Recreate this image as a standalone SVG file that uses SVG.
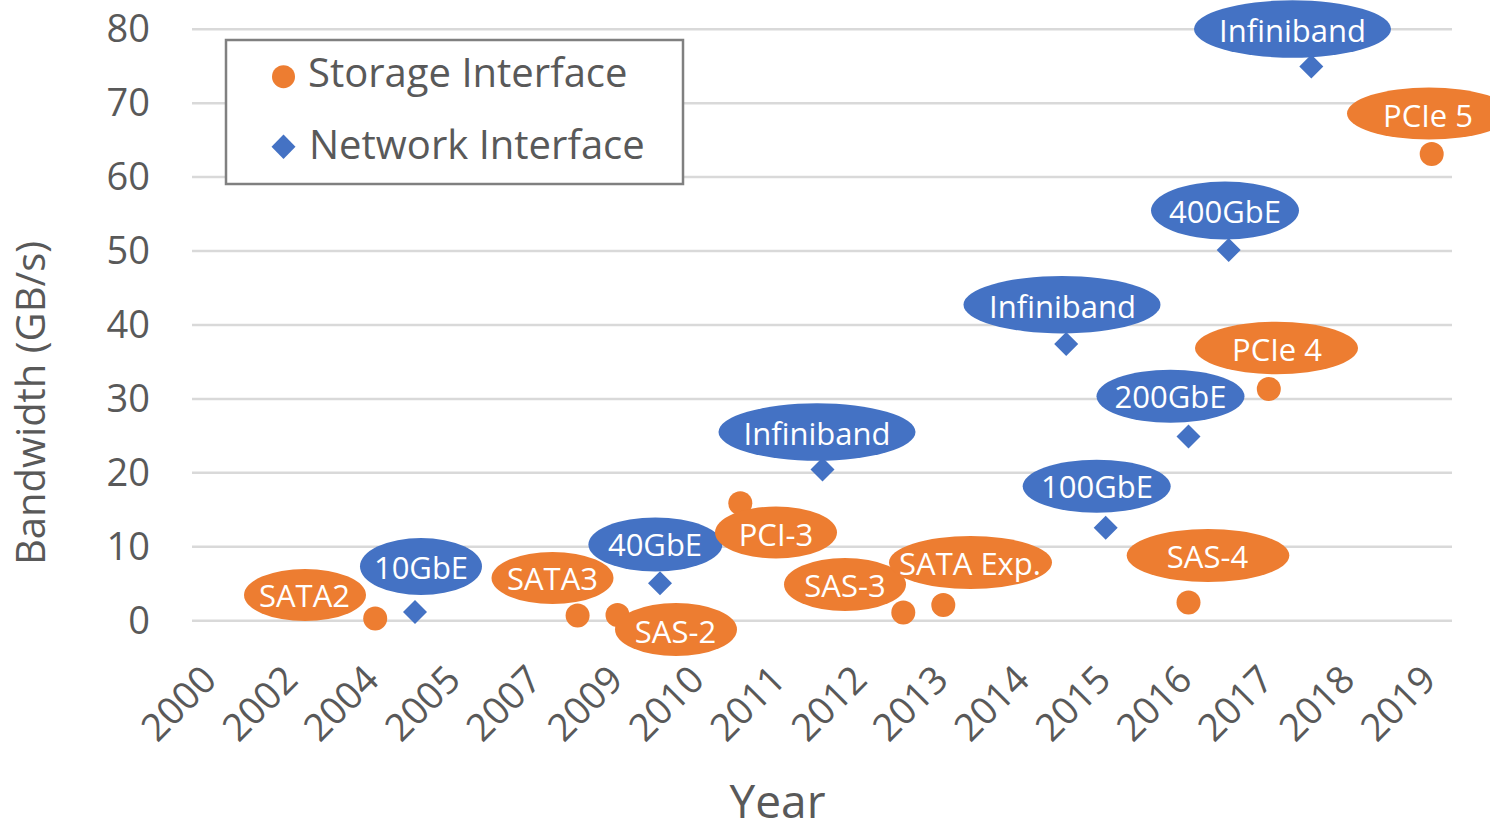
<svg xmlns="http://www.w3.org/2000/svg" width="1490" height="827" viewBox="0 0 1490 827">
  <style>
    .bg { fill: #ffffff; }
    .grid { stroke: #d9d9d9; stroke-width: 2.5; }
    .tick { font-family: "Open Sans", "Liberation Sans", sans-serif; font-size: 38px; fill: #595959; }
    .ytick { text-anchor: end; }
    .xtick { text-anchor: end; }
    .title { font-family: "Open Sans", "Liberation Sans", sans-serif; fill: #595959; text-anchor: middle; }
    .legend-box { fill: #ffffff; stroke: #808080; stroke-width: 2.5; }
    .legend-text { font-family: "Open Sans", "Liberation Sans", sans-serif; font-size: 40px; fill: #595959; }
    .storage { fill: #ed7d31; }
    .network { fill: #4472c4; }
    .callout-text { font-family: "Open Sans", "Liberation Sans", sans-serif; font-size: 31px; fill: #ffffff; text-anchor: middle; }
  </style>
  <defs>
    <circle id="dot" r="12"/>
    <path id="diamond" d="M0,-12 L12,0 L0,12 L-12,0 Z"/>
  </defs>

  <rect class="bg" x="0" y="0" width="1490" height="827"/>

  <!-- horizontal gridlines, 0 to 80 GB/s -->
  <g id="gridlines">
    <line class="grid" x1="192" y1="620.7" x2="1452" y2="620.7"/>
    <line class="grid" x1="192" y1="546.8" x2="1452" y2="546.8"/>
    <line class="grid" x1="192" y1="472.8" x2="1452" y2="472.8"/>
    <line class="grid" x1="192" y1="398.9" x2="1452" y2="398.9"/>
    <line class="grid" x1="192" y1="325" x2="1452" y2="325"/>
    <line class="grid" x1="192" y1="251" x2="1452" y2="251"/>
    <line class="grid" x1="192" y1="177.1" x2="1452" y2="177.1"/>
    <line class="grid" x1="192" y1="103.2" x2="1452" y2="103.2"/>
    <line class="grid" x1="192" y1="29.3" x2="1452" y2="29.3"/>
  </g>

  <!-- value axis -->
  <g id="y-axis">
    <text class="tick ytick" x="150" y="633.5">0</text>
    <text class="tick ytick" x="150" y="559.6">10</text>
    <text class="tick ytick" x="150" y="485.6">20</text>
    <text class="tick ytick" x="150" y="411.7">30</text>
    <text class="tick ytick" x="150" y="337.8">40</text>
    <text class="tick ytick" x="150" y="263.8">50</text>
    <text class="tick ytick" x="150" y="189.9">60</text>
    <text class="tick ytick" x="150" y="116">70</text>
    <text class="tick ytick" x="150" y="42.1">80</text>
    <text class="title" font-size="40" transform="translate(45,403) rotate(-90)">Bandwidth (GB/s)</text>
  </g>

  <!-- category axis -->
  <g id="x-axis">
    <text class="tick xtick" transform="translate(218.6,682) rotate(-45)">2000</text>
    <text class="tick xtick" transform="translate(299.9,682) rotate(-45)">2002</text>
    <text class="tick xtick" transform="translate(381.2,682) rotate(-45)">2004</text>
    <text class="tick xtick" transform="translate(462.5,682) rotate(-45)">2005</text>
    <text class="tick xtick" transform="translate(543.8,682) rotate(-45)">2007</text>
    <text class="tick xtick" transform="translate(625.1,682) rotate(-45)">2009</text>
    <text class="tick xtick" transform="translate(706.4,682) rotate(-45)">2010</text>
    <text class="tick xtick" transform="translate(787.7,682) rotate(-45)">2011</text>
    <text class="tick xtick" transform="translate(869,682) rotate(-45)">2012</text>
    <text class="tick xtick" transform="translate(950.3,682) rotate(-45)">2013</text>
    <text class="tick xtick" transform="translate(1031.6,682) rotate(-45)">2014</text>
    <text class="tick xtick" transform="translate(1112.9,682) rotate(-45)">2015</text>
    <text class="tick xtick" transform="translate(1194.2,682) rotate(-45)">2016</text>
    <text class="tick xtick" transform="translate(1275.5,682) rotate(-45)">2017</text>
    <text class="tick xtick" transform="translate(1356.8,682) rotate(-45)">2018</text>
    <text class="tick xtick" transform="translate(1438.1,682) rotate(-45)">2019</text>
    <text class="title" font-size="46" x="777.5" y="818">Year</text>
  </g>

  <!-- data markers -->
  <g id="storage-points" class="storage">
    <use href="#dot" x="375.2" y="618.5"/>
    <use href="#dot" x="577.6" y="615.5"/>
    <use href="#dot" x="617.5" y="615"/>
    <use href="#dot" x="740.3" y="503.3"/>
    <use href="#dot" x="903.3" y="612.5"/>
    <use href="#dot" x="943.3" y="605"/>
    <use href="#dot" x="1188.5" y="602.5"/>
    <use href="#dot" x="1268.8" y="389"/>
    <use href="#dot" x="1431.7" y="154"/>
  </g>
  <g id="network-points" class="network">
    <use href="#diamond" x="415" y="612"/>
    <use href="#diamond" x="660" y="583.3"/>
    <use href="#diamond" x="822.5" y="469.5"/>
    <use href="#diamond" x="1066.2" y="344"/>
    <use href="#diamond" x="1105.7" y="527.8"/>
    <use href="#diamond" x="1188.5" y="436.5"/>
    <use href="#diamond" x="1228.7" y="250"/>
    <use href="#diamond" x="1311.3" y="66.5"/>
  </g>

  <!-- network interface callouts -->
  <g id="label-10gbe">
    <ellipse class="network" cx="421" cy="566.5" rx="61" ry="28.5"/>
    <text class="callout-text" x="421" y="579">10GbE</text>
  </g>
  <g id="label-40gbe">
    <ellipse class="network" cx="655.4" cy="544.5" rx="67" ry="27"/>
    <text class="callout-text" x="655" y="556">40GbE</text>
  </g>
  <g id="label-infiniband-a">
    <ellipse class="network" cx="817" cy="432" rx="98.5" ry="28.7"/>
    <text class="callout-text" x="817" y="445">Infiniband</text>
  </g>
  <g id="label-infiniband-b">
    <ellipse class="network" cx="1062" cy="304.7" rx="98.5" ry="28.7"/>
    <text class="callout-text" x="1062.5" y="317.7">Infiniband</text>
  </g>
  <g id="label-100gbe">
    <ellipse class="network" cx="1096.7" cy="486.3" rx="74" ry="26.5"/>
    <text class="callout-text" x="1097" y="498.3">100GbE</text>
  </g>
  <g id="label-200gbe">
    <ellipse class="network" cx="1170.5" cy="396.3" rx="74" ry="26.5"/>
    <text class="callout-text" x="1170.5" y="408.3">200GbE</text>
  </g>
  <g id="label-400gbe">
    <ellipse class="network" cx="1225" cy="210.5" rx="74" ry="29"/>
    <text class="callout-text" x="1225" y="222.7">400GbE</text>
  </g>
  <g id="label-infiniband-c">
    <ellipse class="network" cx="1292.5" cy="29" rx="98.5" ry="28.7"/>
    <text class="callout-text" x="1292.5" y="42.3">Infiniband</text>
  </g>

  <!-- storage interface callouts -->
  <g id="label-sata2">
    <ellipse class="storage" cx="305" cy="595" rx="61" ry="26"/>
    <text class="callout-text" x="304.5" y="607">SATA2</text>
  </g>
  <g id="label-sata3">
    <ellipse class="storage" cx="552.5" cy="578" rx="61" ry="26"/>
    <text class="callout-text" x="552.5" y="590">SATA3</text>
  </g>
  <g id="label-sas2">
    <ellipse class="storage" cx="676" cy="629.5" rx="61" ry="26.5"/>
    <text class="callout-text" x="675.5" y="643">SAS-2</text>
  </g>
  <g id="label-pci3">
    <ellipse class="storage" cx="776" cy="532.5" rx="61" ry="26"/>
    <text class="callout-text" x="776" y="546">PCI-3</text>
  </g>
  <g id="label-sas3">
    <ellipse class="storage" cx="845" cy="584.5" rx="61" ry="26.5"/>
    <text class="callout-text" x="845" y="597">SAS-3</text>
  </g>
  <g id="label-sata-exp">
    <ellipse class="storage" cx="970.5" cy="562.5" rx="81.5" ry="26.5"/>
    <text class="callout-text" x="970" y="575">SATA Exp.</text>
  </g>
  <g id="label-sas4">
    <ellipse class="storage" cx="1208" cy="555.5" rx="81.3" ry="26.5"/>
    <text class="callout-text" x="1207.5" y="568">SAS-4</text>
  </g>
  <g id="label-pcie4">
    <ellipse class="storage" cx="1276.5" cy="348" rx="81.5" ry="26.3"/>
    <text class="callout-text" x="1277" y="361">PCIe 4</text>
  </g>
  <g id="label-pcie5">
    <ellipse class="storage" cx="1429" cy="113.5" rx="82" ry="26"/>
    <text class="callout-text" x="1428" y="126.7">PCIe 5</text>
  </g>

  <!-- legend -->
  <g id="legend">
    <rect class="legend-box" x="226" y="40" width="457" height="144"/>
    <circle class="storage" cx="283.5" cy="76.7" r="11.5"/>
    <text class="legend-text" x="308" y="87.3">Storage Interface</text>
    <path class="network" d="M283.5,134.5 L295.5,146.7 L283.5,158.9 L271.5,146.7 Z"/>
    <text class="legend-text" x="309" y="159">Network Interface</text>
  </g>
</svg>
